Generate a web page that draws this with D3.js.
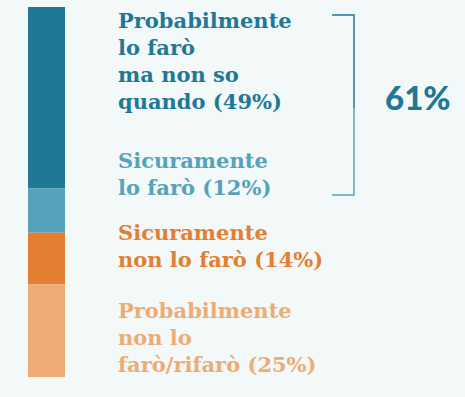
<!DOCTYPE html>
<html>
<head>
<meta charset="utf-8">
<script src="https://cdn.jsdelivr.net/npm/d3@7"></script>
<style>
    body { margin: 0; background: #f3f8f9; }
    .lbl { font-family: "DejaVu Serif", serif; font-weight: bold; }
</style>
</head>
<body>
<div id="chart"></div>
<script>
const categories = ["Probabilmente lo farò ma non so quando", "Sicuramente lo farò", "Sicuramente non lo farò", "Probabilmente non lo farò/rifarò"]
const values = [49, 12, 14, 25]
const labelLines = [
    ["Probabilmente", "lo farò", "ma non so", "quando (49%)"],
    ["Sicuramente", "lo farò (12%)"],
    ["Sicuramente", "non lo farò (14%)"],
    ["Probabilmente", "non lo", "farò/rifarò (25%)"]
]
const bracketGroup = [0, 1]   // categories summed by the bracket
const colors = ['#1f7896', '#55a2ba', '#e47f32', '#eeac74']

const WIDTH = 465
const HEIGHT = 397
const BAR_X = 28
const BAR_W = 37
const LABEL_X = 118
const LINE_H = 27
const labelTop = [28, 168, 240, 318]   // baseline of first line of each label

var svg = d3.select('#chart')
    .append('svg')
    .attr('width', WIDTH)
    .attr('height', HEIGHT)

var yscale = d3.scaleLinear()
    .domain([0, d3.sum(values)])
    .range([7, 377])

var stack = []
var acc = 0
values.forEach(function (v, i) {
    stack.push({ start: acc, end: acc + v, color: colors[i], name: categories[i] })
    acc += v
})

svg.append('g').selectAll('rect')
    .data(stack)
    .join('rect')
    .attr('x', BAR_X)
    .attr('width', BAR_W)
    .attr('y', d => yscale(d.start))
    .attr('height', d => yscale(d.end) - yscale(d.start))
    .style('fill', d => d.color)

// labels
labelLines.forEach(function (lines, i) {
    var t = svg.append('text')
        .attr('class', 'lbl')
        .attr('x', LABEL_X)
        .attr('y', labelTop[i])
        .style('fill', colors[i])
        .style('font-size', '21px')
    lines.forEach(function (line, j) {
        t.append('tspan')
            .attr('x', LABEL_X)
            .attr('y', labelTop[i] + j * LINE_H)
            .text(line)
    })
})

// bracket around the first two labels
var bTop = labelTop[bracketGroup[0]] - 13
var bLast = bracketGroup[bracketGroup.length - 1]
var bBottom = labelTop[bLast] + (labelLines[bLast].length - 1) * LINE_H
var bMid = (labelTop[bracketGroup[1]] - 60)
var BX = 354
var BX0 = 332
svg.append('path')
    .attr('d', `M${BX0},${bTop}H${BX}V${bMid}`)
    .style('fill', 'none')
    .style('stroke', colors[0])
    .style('stroke-width', 1.5)
svg.append('path')
    .attr('d', `M${BX},${bMid}V${bBottom}H${BX0}`)
    .style('fill', 'none')
    .style('stroke', colors[1])
    .style('stroke-width', 1.5)

var total = d3.sum(bracketGroup, i => values[i])
svg.append('text')
    .attr('x', 385)
    .attr('y', 110)
    .style('font-family', 'Lato, sans-serif')
    .style('font-weight', 900)
    .style('font-size', '33px')
    .style('fill', colors[0])
    .text(total + '%')
</script>
</body>
</html>
